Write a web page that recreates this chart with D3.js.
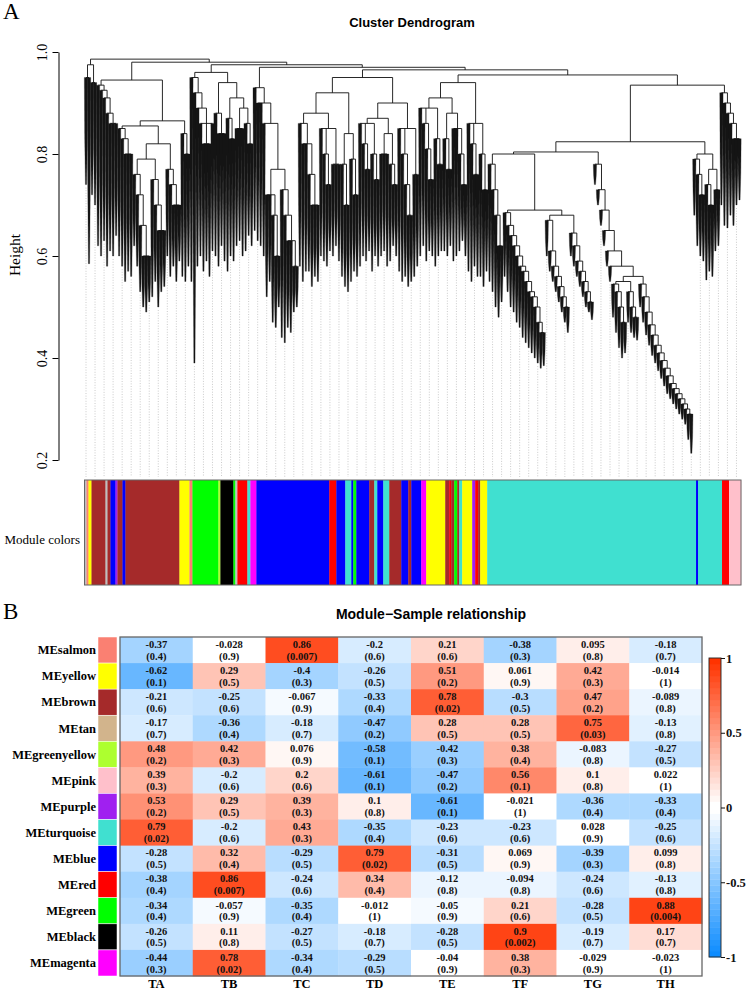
<!DOCTYPE html>
<html><head><meta charset="utf-8">
<script src="https://cdn.jsdelivr.net/npm/d3@7"></script>
<style>body{margin:0;background:#fff}</style>
</head><body>
<svg id="chart" width="748" height="991" xmlns="http://www.w3.org/2000/svg"></svg>
<script>
// ================= DATA =================
// Dendrogram, written as nested clusters: "(children)mergeHeight", leaf = bottom height of the hanging branch
const blockA   = "((.74,.585).95,(.72,.70).94).975";
const blockB1  = "(.62,(.6,(.63,(.58,(.61,.6,.64).86).88).91).925).935";
const blockB2a = "(.6,(.58,(.55,.57,.56).8).83).85";
const blockB2b = "(((.62,(.58,(.53,(.5,.49,.51).6).66).72).76,(.52,(.55,(.5,.53,.54).65).7).75).79,(.6,(.56,(.58,.55,.59).7).74).77).82";
const blockB3  = "(.56,(.55,.58).8).84";
const blockM1a = "(.55,(.39,(.58,(.6,(.57,.59,.56).82,.61).86).89).92).95";
const blockM1b = "((.6,(.58,.62,.59).84).88,((.57,(.6,.59).83).87,((.62,.63,.6).85,(.61,(.64,.62).82).86).89).91).94";
const blockM2w = "((.52,.55,(.47,(.46,.5).6).68).72,(.44,(.43,(.46,.45,(.49,.5).58).63).68).73).77";
const blockP1  = "(.58,(.55,.57,(.57,(.54,.56,.55).7).76).82).86";
const blockP2  = "(.6,(.59,(.58,.61).74).8,(.6,.62,.59).78).85";
const blockP3  = "((.56,(.54,.53).7).78,(.55,(.57,.56).72).79).84";
const blockQ1  = "(.58,(.6,(.59,.61).77).82,(.57,(.6,.58).75).8).86";
const blockQ2  = "((.6,.61,.58).8,(.59,(.62,.6).74).78).84";
const blockQ3  = "(.57,(.55,(.56,(.54,.55).68).74).8,(.56,.58).76).85";
const blockR1  = "(.6,(.62,(.59,(.61,.6).75).81).86,(.58,(.6,.61).78).83).89";
const blockR2  = "((.61,(.6,.62).77).83,(.59,.6,(.61,(.63,.6).74).8).85).88";
const blockR3  = "(.57,(.55,(.58,.56).76).82,(.56,(.54,.57).73).8).86";
const blockM5  = "(.55,(.53,(.5,(.48,.51).62).68).73).78";
const blockT1  = "(.56,(.53,(.5,(.49,(.47,(.46,(.44,(.43,(.42,(.41,(.4,(.39,(.38,.385).45).47).5).52).53).55).57).58).6).62).64).66).685";
const blockT2  = "(.6,(.57,(.55,(.53,(.51,(.49,(.47,.45).5).52).54).56).58).61).67";
const blockT3  = "(.6,(.58,(.56,(.54,(.52,(.5,(.49,.475).51).53).55).57).59).62).645";
const blockT4b = "((.48,(.45,(.42,(.4,.41).47).5).53).545,(.47,(.45,(.44,.435).48).5).53).55";
const blockT4c = "(.5,(.47,(.445,(.425,(.405,(.39,(.375,(.36,(.345,(.33,(.32,(.31,(.3,(.29,(.28,(.27,(.24,.213).29).3).31).32).33).34).35).365).38).395).41).425).445).465).49).52).545";
const blockT5  = "((.68,(.62,(.6,.59).72).76).79,((.553,(.57,.56).7).74,(.61,.62).73).77).8";
const blockRt  = "(.7,(.66,(.655,(.68,(.66,.7,.71).83).86).88).9).92";

// Module colour strip (runs along the dendrogram order)
const moduleRunColors = ["grey","salmon","yellow","brown","grey","brown","blue","purple","brown","blue","brown","yellow","salmon","green","greenyellow","black","green","grey","red","turquoise","magenta","blue","red","blue","turquoise","blue","green","blue","brown","turquoise","blue","turquoise","brown","blue","brown","blue","magenta","yellow","brown","red","brown","green","brown","turquoise","yellow","purple","red","brown","yellow","turquoise","blue","turquoise","red","pink"];
const moduleRunSizes  = [2,2,3,14,2,3,5,2,5,3,54,10,3,26,2,13,2,2,10,3,6,73,7,9,6,2,3,13,5,3,6,6,12,7,3,10,5,19,4,2,3,3,2,3,10,3,3,2,7,209,2,24,7,12];
const rColors = {grey:"#BEBEBE",salmon:"#FA8072",yellow:"#FFFF00",brown:"#A52A2A",blue:"#0000FF",purple:"#A020F0",green:"#00FF00",greenyellow:"#ADFF2F",black:"#000000",red:"#FF0000",turquoise:"#40E0D0",magenta:"#FF00FF",pink:"#FFC0CB",tan:"#D2B48C"};

// Heatmap
const modules = ["MEsalmon","MEyellow","MEbrown","MEtan","MEgreenyellow","MEpink","MEpurple","MEturquoise","MEblue","MEred","MEgreen","MEblack","MEmagenta"];
const moduleColorNames = ["salmon","yellow","brown","tan","greenyellow","pink","purple","turquoise","blue","red","green","black","magenta"];
const samples = ["TA","TB","TC","TD","TE","TF","TG","TH"];
const corMatrix = [
  [-0.37,-0.028,0.86,-0.2,0.21,-0.38,0.095,-0.18],
  [-0.62,0.29,-0.4,-0.26,0.51,0.061,0.42,-0.014],
  [-0.21,-0.25,-0.067,-0.33,0.78,-0.3,0.47,-0.089],
  [-0.17,-0.36,-0.18,-0.47,0.28,0.28,0.75,-0.13],
  [0.48,0.42,0.076,-0.58,-0.42,0.38,-0.083,-0.27],
  [0.39,-0.2,0.2,-0.61,-0.47,0.56,0.1,0.022],
  [0.53,0.29,0.39,0.1,-0.61,-0.021,-0.36,-0.33],
  [0.79,-0.2,0.43,-0.35,-0.23,-0.23,0.028,-0.25],
  [-0.28,0.32,-0.29,0.79,-0.31,0.069,-0.39,0.099],
  [-0.38,0.86,-0.24,0.34,-0.12,-0.094,-0.24,-0.13],
  [-0.34,-0.057,-0.35,-0.012,-0.05,0.21,-0.28,0.88],
  [-0.26,0.11,-0.27,-0.18,-0.28,0.9,-0.19,0.17],
  [-0.44,0.78,-0.34,-0.29,-0.04,0.38,-0.029,-0.023]
];
const pMatrix = [
  [0.4,0.9,0.007,0.6,0.6,0.3,0.8,0.7],
  [0.1,0.5,0.3,0.5,0.2,0.9,0.3,1],
  [0.6,0.6,0.9,0.4,0.02,0.5,0.2,0.8],
  [0.7,0.4,0.7,0.2,0.5,0.5,0.03,0.8],
  [0.2,0.3,0.9,0.1,0.3,0.4,0.8,0.5],
  [0.3,0.6,0.6,0.1,0.2,0.1,0.8,1],
  [0.2,0.5,0.3,0.8,0.1,1,0.4,0.4],
  [0.02,0.6,0.3,0.4,0.6,0.6,0.9,0.6],
  [0.5,0.4,0.5,0.02,0.5,0.9,0.3,0.8],
  [0.4,0.007,0.6,0.4,0.8,0.8,0.6,0.8],
  [0.4,0.9,0.4,1,0.9,0.6,0.5,0.004],
  [0.5,0.8,0.5,0.7,0.5,0.002,0.7,0.7],
  [0.3,0.02,0.4,0.5,0.9,0.3,0.9,1]
];
const heightTicks = [0.2,0.4,0.6,0.8,1.0];
const legendTicks = [-1,-0.5,0,0.5,1];

// ================= BUILD =================
const M1 = `(${blockM1a},${blockM1b}).96`;
const M2 = `(.65,(.63,.62,(.6,${blockM2w}).86).9).93`;
const M3 = `(((${blockP1},${blockP2}).88,${blockP3}).92,((${blockQ1},${blockQ2}).87,${blockQ3}).9).95`;
const M4 = `((${blockR1},${blockR2}).91,${blockR3}).94`;
const TL = `(${blockM5},(${blockT1},(${blockT2},${blockT3}).68).69).8`;
const T4 = `(.74,(.7,(.66,(.62,(.58,(.55,(${blockT4b},${blockT4c}).56).58).61).65).69).73).78`;
const treeString = `(${blockA},((${blockB1},((${blockB2a},${blockB2b}).855,${blockB3}).865).945,(${M1},(${M2},(${M3},(${M4},(((${TL},${T4}).804,${blockT5}).824,${blockRt}).935).955).965).97).975).98).986`;

function parseTree(s){
  let i = 0;
  function num(){ const j=i; while(i<s.length && /[0-9.\-]/.test(s[i])) i++; return +s.slice(j,i); }
  function node(){
    if (s[i] === "("){
      i++;
      const children=[node()];
      while (s[i] === ","){ i++; children.push(node()); }
      i++; // ')'
      return {h:num(), children};
    }
    return {b:num()};
  }
  return node();
}

const svg = d3.select("#chart");
const serif = "'Liberation Serif','Times New Roman',Times,serif";
const sans = "'Liberation Sans',Arial,Helvetica,sans-serif";

svg.append("text").attr("x",3).attr("y",19).attr("font-family",serif).attr("font-size",23).text("A");
svg.append("text").attr("x",3).attr("y",619).attr("font-family",serif).attr("font-size",23).text("B");
svg.append("text").attr("x",412).attr("y",27).attr("text-anchor","middle")
  .attr("font-family",sans).attr("font-weight","bold").attr("font-size",13).text("Cluster Dendrogram");

const y = d3.scaleLinear().domain([0.2,1.0]).range([460,52]);
const root = d3.hierarchy(parseTree(treeString), d => d.children);
const leaves = root.leaves();
const x = d3.scaleLinear().domain([0, leaves.length]).range([84.5, 741]);
leaves.forEach((l,i) => { l.x = x(i+0.5); l.yb = y(l.data.b); });
root.eachAfter(n => { if (n.children){ n.x = (n.children[0].x + n.children[n.children.length-1].x)/2; n.yh = y(n.data.h); } });

// guide lines
let lastG = -100;
const guideLeaves = leaves.filter(l => { if (l.x - lastG >= 7.2){ lastG = l.x; return true; } return false; });
svg.append("g").selectAll("line").data(guideLeaves).join("line")
  .attr("x1",d=>d.x).attr("x2",d=>d.x).attr("y1",d=>d.yb+3).attr("y2",477)
  .attr("stroke","#b4b4b4").attr("stroke-width",0.7).attr("stroke-dasharray","1,1.6");

// dendrogram
const gD = svg.append("g");
const internals = root.descendants().filter(n => n.children);
const segs = [];
internals.forEach(n => {
  segs.push([n.children[0].x, n.yh, n.children[n.children.length-1].x, n.yh]);
  n.children.forEach(c => { if (c.children) segs.push([c.x, n.yh, c.x, c.yh]); });
});
const u = x(1) - x(0);
gD.selectAll("polygon").data(leaves).join("polygon")
  .attr("points", d => {
    const t = d.parent.yh, w = u*0.55, wb = u*0.2;
    const m = t + (d.yb - t)*0.55;
    return `${d.x-w},${t} ${d.x+w},${t} ${d.x+w*0.8},${m} ${d.x+wb},${d.yb} ${d.x-wb},${d.yb} ${d.x-w*0.8},${m}`;
  })
  .attr("fill","#141414").attr("stroke","#141414").attr("stroke-width",0.3);
gD.selectAll("line").data(segs).join("line")
  .attr("x1",d=>d[0]).attr("y1",d=>d[1]).attr("x2",d=>d[2]).attr("y2",d=>d[3])
  .attr("stroke","#111").attr("stroke-width",0.9);

// y axis
const axis = d3.axisLeft(y).tickValues(heightTicks).tickFormat(d3.format(".1f")).tickSize(6).tickSizeOuter(0);
const ag = svg.append("g").attr("transform","translate(58.5,0)").call(axis);
ag.select(".domain").attr("stroke","#000");
ag.selectAll(".tick line").attr("stroke","#000");
ag.selectAll("text").attr("x",null).attr("dy",null).attr("text-anchor","middle")
  .attr("transform","translate(-11.5,0) rotate(-90)")
  .attr("font-family",serif).attr("font-size",14).attr("fill","#000");
svg.append("text").attr("transform","translate(20,255) rotate(-90)").attr("text-anchor","middle")
  .attr("font-family",serif).attr("font-size",15.5).text("Height");

// module colour strip
const total = d3.sum(moduleRunSizes);
const cxs = d3.scaleLinear().domain([0,total]).range([84.5,741]);
let acc = 0;
const runs = moduleRunColors.map((c,i) => { const s = acc; acc += moduleRunSizes[i]; return {c, s, e:acc}; });
svg.append("g").selectAll("rect").data(runs).join("rect")
  .attr("x",d=>cxs(d.s)).attr("width",d=>cxs(d.e)-cxs(d.s)+0.3)
  .attr("y",480).attr("height",105).attr("fill",d=>rColors[d.c]);
svg.append("rect").attr("x",84.5).attr("y",480).attr("width",741-84.5).attr("height",105)
  .attr("fill","none").attr("stroke","#666").attr("stroke-width",1);
svg.append("text").attr("x",80).attr("y",544).attr("text-anchor","end")
  .attr("font-family",serif).attr("font-size",13).text("Module colors");

// ============ heatmap ============
svg.append("text").attr("x",431).attr("y",619).attr("text-anchor","middle")
  .attr("font-family",sans).attr("font-weight","bold").attr("font-size",14).text("Module\u2212Sample relationship");

const palette = d3.range(50).map(k => k < 25 ? d3.interpolateRgb("#0D8CFF","#FFFFFF")(k/24)
                                            : d3.interpolateRgb("#FFFFFF","#FF3300")((k-25)/24));
const colorOf = v => palette[Math.max(0, Math.min(49, Math.floor((v+1)/2*50)))];

const xb = d3.scaleBand().domain(samples).range([120,702]);
const yb = d3.scaleBand().domain(modules).range([637,976]);
const cells = [];
modules.forEach((m,i) => samples.forEach((s,j) => cells.push({m, s, v:corMatrix[i][j], p:pMatrix[i][j]})));
const gH = svg.append("g");
gH.selectAll("rect").data(cells).join("rect")
  .attr("x",d=>xb(d.s)).attr("y",d=>yb(d.m)).attr("width",xb.bandwidth()+0.4).attr("height",yb.bandwidth()+0.4)
  .attr("fill",d=>colorOf(d.v));
const cellFont = {"text-anchor":"middle","font-family":serif,"font-weight":"bold","font-size":10.5,"fill":"#111"};
const t1 = gH.append("g").selectAll("text").data(cells).join("text")
  .attr("x",d=>xb(d.s)+xb.bandwidth()/2).attr("y",d=>yb(d.m)+yb.bandwidth()/2-2.3).text(d=>String(d.v));
const t2 = gH.append("g").selectAll("text").data(cells).join("text")
  .attr("x",d=>xb(d.s)+xb.bandwidth()/2).attr("y",d=>yb(d.m)+yb.bandwidth()/2+9.6).text(d=>"("+String(d.p)+")");
[t1,t2].forEach(sel => Object.entries(cellFont).forEach(([k,v]) => sel.attr(k,v)));
svg.append("rect").attr("x",120).attr("y",637).attr("width",582).attr("height",339)
  .attr("fill","none").attr("stroke","#666").attr("stroke-width",1.3);

// module colour squares
svg.append("g").selectAll("rect").data(modules).join("rect")
  .attr("x",98).attr("width",19).attr("y",d=>yb(d)).attr("height",yb.bandwidth())
  .attr("fill",(d,i)=>rColors[moduleColorNames[i]]).attr("stroke","#fff").attr("stroke-width",0.5);
svg.append("g").selectAll("text").data(modules).join("text")
  .attr("x",96).attr("y",d=>yb(d)+yb.bandwidth()/2+4.3).attr("text-anchor","end")
  .attr("font-family",serif).attr("font-weight","bold").attr("font-size",12.5).text(d=>d);
svg.append("g").selectAll("text").data(samples).join("text")
  .attr("x",d=>xb(d)+xb.bandwidth()/2).attr("y",988).attr("text-anchor","middle")
  .attr("font-family",serif).attr("font-weight","bold").attr("font-size",12.5).text(d=>d);

// colour legend
const ly = d3.scaleLinear().domain([-1,1]).range([957,658]);
const steps = d3.range(50).map(k => ({lo:-1+k*0.04, hi:-1+(k+1)*0.04, c:palette[k]}));
svg.append("g").selectAll("rect").data(steps).join("rect")
  .attr("x",709).attr("width",12).attr("y",d=>ly(d.hi)).attr("height",d=>ly(d.lo)-ly(d.hi)+0.3).attr("fill",d=>d.c);
svg.append("rect").attr("x",709).attr("y",658).attr("width",12).attr("height",299)
  .attr("fill","none").attr("stroke","#222").attr("stroke-width",0.9);
const lAxis = d3.axisRight(ly).tickValues(legendTicks).tickSize(4).tickSizeOuter(0).tickFormat(d=>String(d));
const lg = svg.append("g").attr("transform","translate(721,0)").call(lAxis);
lg.select(".domain").remove();
lg.selectAll(".tick line").attr("stroke","#111");
lg.selectAll("text").attr("x",5).attr("font-family",serif).attr("font-weight","bold").attr("font-size",12.5).attr("fill","#111");
</script>
</body></html>
